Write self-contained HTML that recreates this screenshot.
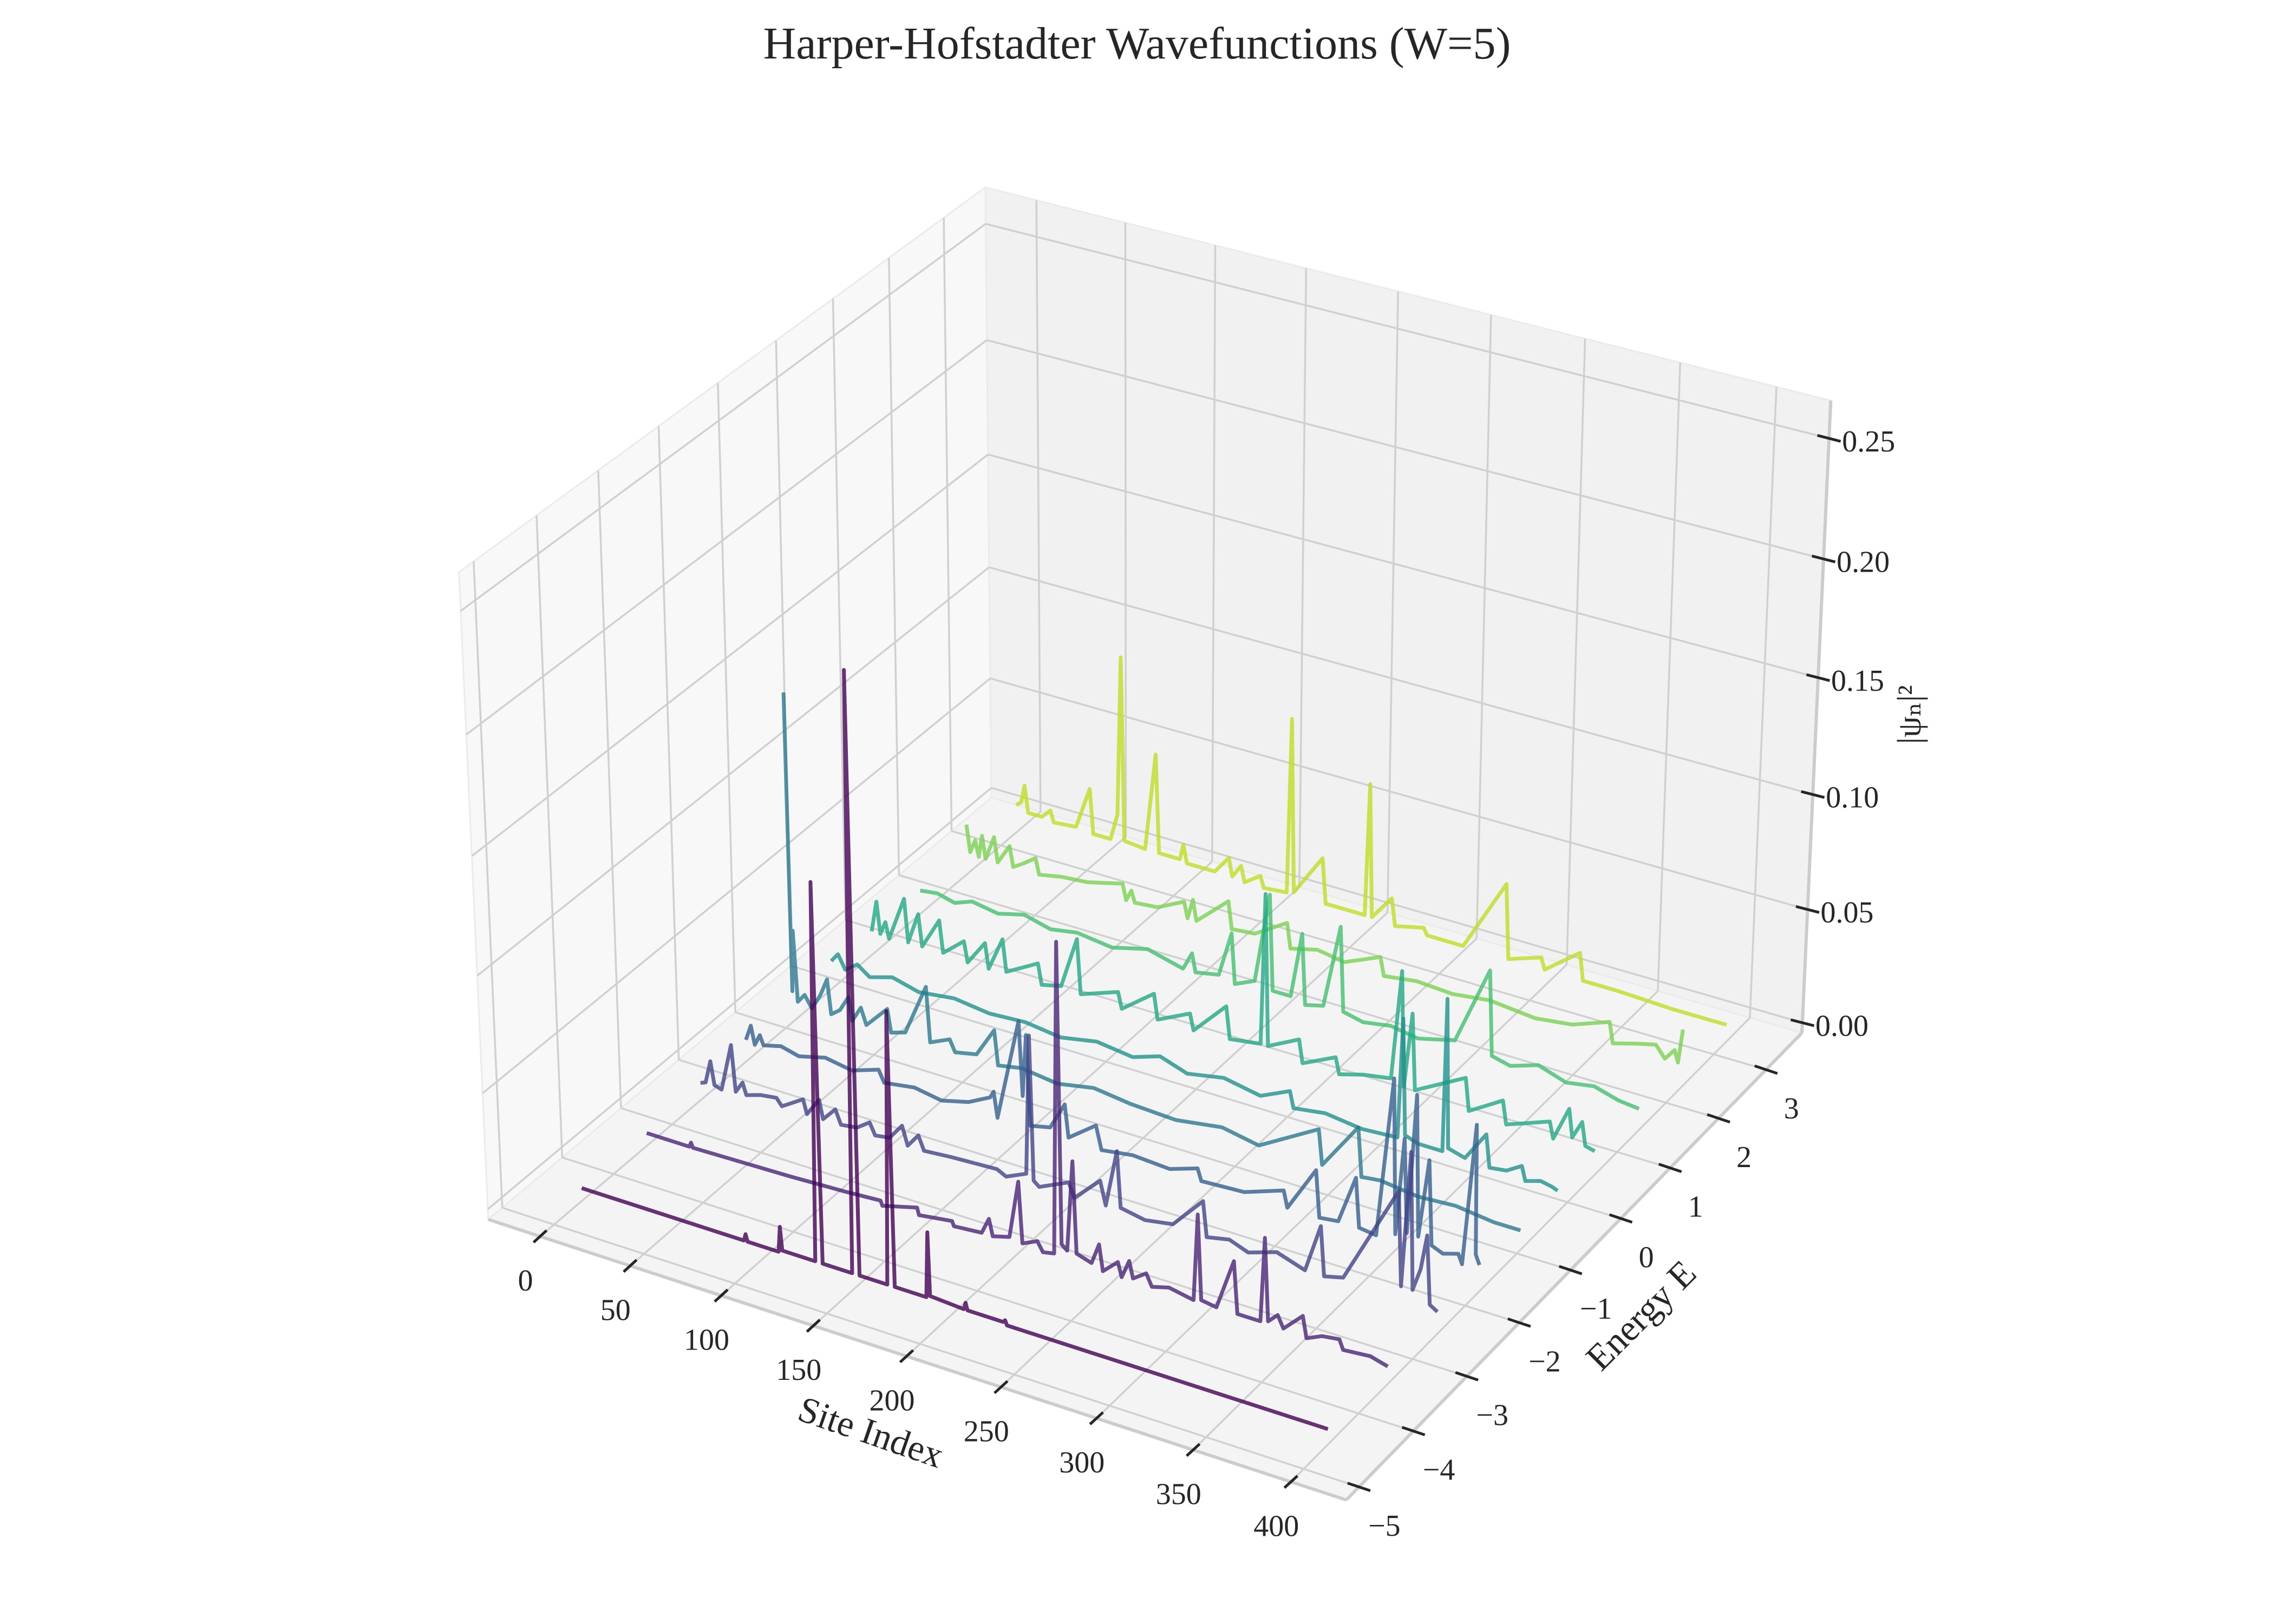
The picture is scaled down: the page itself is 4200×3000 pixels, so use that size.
<!DOCTYPE html>
<html>
<head>
<meta charset="utf-8">
<style>
  html,body{margin:0;padding:0;background:#ffffff;}
  svg{display:block;}
  text{font-family:"Liberation Serif","DejaVu Serif",serif;fill:#262626;}
</style>
</head>
<body>
<svg id="chart" xmlns="http://www.w3.org/2000/svg" width="4200" height="3000" viewBox="0 0 4200 3000">
  <rect x="0" y="0" width="4200" height="3000" fill="#ffffff"/>
  <text x="2100" y="108" font-size="84" text-anchor="middle">Harper-Hofstadter Wavefunctions (W=5)</text>
  <g id="panes"></g>
  <g id="grid"></g>
  <g id="axislines"></g>
  <g id="ticks"></g>
  <g id="series"></g>
  <text x="1608" y="2668" font-size="68" text-anchor="middle" transform="rotate(19 1608 2647)">Site Index</text>
  <text x="3032" y="2452" font-size="68" text-anchor="middle" transform="rotate(-45 3032 2431)">Energy E</text>
  <text x="3526" y="1341" font-size="62" text-anchor="middle" transform="rotate(-90 3526 1320)">|ψₙ|²</text>
</svg>
<script>
// ---- chart data ----
const xTicks = [0, 50, 100, 150, 200, 250, 300, 350, 400];
const xTickLabels = ["0", "50", "100", "150", "200", "250", "300", "350", "400"];
const yTicks = [-5, -4, -3, -2, -1, 0, 1, 2, 3];
const yTickLabels = ["\u22125", "\u22124", "\u22123", "\u22122", "\u22121", "0", "1", "2", "3"];
const zTicks = [0, 0.05, 0.10, 0.15, 0.20, 0.25];
const zTickLabels = ["0.00", "0.05", "0.10", "0.15", "0.20", "0.25"];
const xLim = [-29, 428];
const yLim = [-5.23, 3.77];
const zLim = [-0.0045, 0.2655];
const energies = [-4.53, -3.43, -2.5, -1.7, -0.9, -0.17, 0.57, 1.47, 2.35, 3.3];
const seriesColors = ["#440154", "#482475", "#414487", "#355f8d", "#2a788e", "#21918c", "#22a884", "#44bf70", "#7ad151", "#bddf26"];

const psi0 = [[0,.001],[60,.001],[90,.001],[91,.004],[92,.001],[109,.001],[110,.012],[111,.002],[129,.002],[131,.162],[133,.002],[149,.002],[151,.252],[153,.002],[168,.002],[170,.118],[172,.002],[189,.002],[190,.03],[191,.003],[209,.002],[210,.005],[211,.002],[230,.002],[231,.003],[232,.001],[399,.001]];
const psi1 = [[0,.001],[24,.001],[25,.003],[26,.001],[80,.002],[110,.003],[130,.004],[131,.002],[150,.006],[151,.003],[169,.005],[170,.003],[185,.004],[189,.011],[191,.004],[200,.006],[205,.031],[207,.005],[215,.008],[218,.004],[224,.005],[226,.137],[228,.01],[231,.008],[234,.047],[236,.008],[244,.006],[248,.015],[250,.004],[258,.01],[260,.004],[264,.012],[266,.005],[273,.009],[276,.004],[285,.006],[298,.004],[300,.041],[302,.005],[310,.004],[319,.026],[321,.004],[333,.004],[335,.04],[337,.005],[342,.009],[345,.004],[355,.012],[357,.003],[365,.006],[374,.007],[376,.003],[390,.004],[399,.002]];
const psi2 = [[0,.003],[3,.004],[6,.014],[8,.004],[12,.003],[18,.024],[20,.004],[24,.009],[26,.004],[34,.006],[43,.007],[46,.004],[50,.006],[58,.01],[60,.004],[67,.012],[69,.004],[76,.01],[79,.004],[88,.005],[95,.009],[98,.004],[106,.005],[113,.012],[116,.004],[122,.01],[125,.004],[140,.005],[165,.006],[170,.004],[181,.008],[183,.068],[185,.006],[188,.004],[204,.01],[207,.004],[221,.015],[224,.005],[230,.03],[232,.006],[245,.004],[260,.006],[276,.02],[278,.005],[290,.007],[300,.004],[315,.008],[330,.004],[338,.025],[340,.004],[350,.006],[378,.05],[380,.01],[384,.068],[386,.01],[390,.02],[393,.035],[395,.006],[399,.004]];
const psi3 = [[0,.005],[3,.012],[5,.004],[8,.009],[10,.005],[20,.007],[30,.005],[45,.008],[60,.006],[75,.01],[78,.005],[95,.007],[110,.005],[125,.008],[137,.013],[139,.016],[141,.005],[153,.05],[155,.018],[157,.045],[159,.006],[170,.008],[178,.02],[180,.006],[195,.015],[198,.005],[215,.007],[235,.006],[250,.01],[252,.005],[275,.006],[296,.012],[298,.005],[313,.025],[315,.005],[325,.006],[334,.027],[336,.006],[345,.005],[353,.074],[355,.008],[359,.05],[361,.01],[365,.07],[367,.01],[372,.044],[374,.008],[380,.006],[388,.008],[390,.004],[396,.065],[397,.01],[399,.006]];
const psi4 = [[0,.14],[1,.01],[2,.037],[4,.006],[8,.01],[12,.005],[17,.012],[21,.02],[23,.005],[28,.008],[33,.015],[35,.005],[40,.012],[43,.005],[55,.015],[57,.005],[65,.007],[77,.03],[79,.006],[90,.01],[93,.005],[105,.007],[115,.02],[117,.005],[130,.007],[150,.005],[170,.008],[190,.006],[215,.005],[240,.008],[260,.005],[292,.02],[294,.005],[313,.026],[315,.005],[325,.006],[345,.004],[365,.005],[385,.003],[399,.003]];
const psi5 = [[0,.008],[4,.012],[8,.006],[15,.01],[22,.006],[35,.009],[50,.006],[70,.008],[90,.006],[110,.007],[130,.005],[150,.008],[170,.006],[185,.01],[200,.006],[220,.009],[240,.006],[256,.012],[258,.005],[275,.007],[295,.005],[314,.006],[316,.058],[318,.008],[325,.006],[338,.006],[339,.072],[341,.008],[350,.006],[361,.019],[363,.005],[372,.006],[380,.01],[382,.004],[390,.006],[396,.005],[399,.004]];
const psi6 = [[0,.006],[3,.02],[5,.006],[8,.012],[10,.005],[19,.025],[21,.006],[27,.02],[29,.006],[39,.02],[41,.006],[53,.014],[55,.005],[65,.016],[67,.005],[75,.02],[77,.006],[95,.014],[97,.005],[108,.007],[117,.03],[119,.006],[140,.012],[142,.005],[160,.016],[162,.005],[180,.012],[182,.005],[200,.02],[202,.006],[219,.008],[221,.074],[223,.008],[240,.015],[242,.005],[260,.012],[262,.005],[275,.008],[290,.01],[295,.058],[297,.008],[301,.041],[303,.008],[330,.02],[332,.006],[350,.015],[352,.005],[375,.012],[377,.005],[385,.02],[387,.008],[392,.016],[394,.006],[399,.005]];
const psi7 = [[0,.006],[10,.007],[20,.005],[30,.008],[45,.006],[60,.009],[75,.006],[90,.008],[110,.006],[130,.01],[150,.006],[155,.014],[157,.006],[170,.008],[177,.028],[179,.006],[190,.01],[198,.05],[200,.008],[210,.008],[216,.037],[218,.006],[228,.008],[237,.045],[239,.008],[250,.006],[265,.008],[280,.006],[300,.01],[318,.045],[320,.008],[330,.006],[345,.01],[360,.006],[375,.008],[388,.005],[399,.004]];
const psi8 = [[0,.018],[2,.006],[5,.012],[7,.005],[9,.015],[11,.005],[16,.016],[18,.005],[25,.014],[27,.005],[33,.008],[40,.012],[42,.005],[55,.007],[70,.008],[90,.012],[92,.005],[95,.01],[97,.005],[110,.006],[125,.012],[127,.005],[130,.014],[132,.005],[150,.018],[152,.006],[165,.007],[183,.016],[185,.005],[200,.008],[215,.006],[235,.013],[237,.005],[255,.007],[275,.006],[295,.008],[320,.006],[340,.008],[360,.014],[362,.005],[375,.008],[385,.01],[390,.005],[395,.01],[397,.005],[399,.02]];
const psi9 = [[0,.008],[3,.01],[5,.018],[7,.006],[15,.006],[20,.01],[22,.005],[35,.006],[43,.025],[45,.005],[55,.005],[59,.017],[61,.088],[63,.006],[75,.005],[81,.049],[83,.005],[95,.005],[97,.012],[99,.004],[115,.004],[123,.012],[125,.004],[130,.01],[132,.003],[141,.008],[143,.003],[156,.004],[158,.082],[160,.005],[176,.024],[178,.004],[200,.004],[202,.063],[204,.004],[215,.015],[217,.003],[233,.006],[235,.003],[255,.003],[278,.036],[280,.003],[298,.008],[300,.003],[319,.015],[321,.003],[340,.003],[370,.002],[399,.002]];
const allSeries = [psi0, psi1, psi2, psi3, psi4, psi5, psi6, psi7, psi8, psi9];

// ---- projective camera fitted to the reference box (DLT) ----
const NS = "http://www.w3.org/2000/svg";
const x0 = xLim[0], x1 = xLim[1], y0 = yLim[0], y1 = yLim[1], z0 = zLim[0], z1 = zLim[1];
function norm(x, y, z) {
  return [(x - x0) / (x1 - x0), (y - y0) / (y1 - y0), (z - z0) / (z1 - z0)];
}
const calib = [
  [[x0,y0,z0],[902,2250]], [[x0,y0,z1],[847,1058]], [[x0,y1,z1],[1821,346]],
  [[x1,y1,z1],[3381,741]], [[x1,y1,z0],[3327,1905]], [[x1,y0,z0],[2488,2768]],
  [[0,y0,z0],[997,2286]], [[400,y0,z0],[2380,2739]],
  [[x1,-5,z0],[2514,2747]], [[x1,3,z0],[3260,1984]],
  [[x1,y1,0],[3331,1886]], [[x1,y1,0.25],[3378,808]]
];
function solveDLT() {
  const rows = [], rhs = [];
  calib.forEach(c => {
    const X = norm(...c[0]);
    const u = c[1][0] / 1000, v = c[1][1] / 1000;
    rows.push([X[0], X[1], X[2], 1, 0, 0, 0, 0, -u*X[0], -u*X[1], -u*X[2]]); rhs.push(u);
    rows.push([0, 0, 0, 0, X[0], X[1], X[2], 1, -v*X[0], -v*X[1], -v*X[2]]); rhs.push(v);
  });
  const n = 11;
  const A = [];
  for (let i = 0; i < n; i++) {
    A.push(new Array(n + 1).fill(0));
    for (let j = 0; j < n; j++) rows.forEach((r, k) => { A[i][j] += r[i] * r[j]; });
    rows.forEach((r, k) => { A[i][n] += r[i] * rhs[k]; });
  }
  for (let i = 0; i < n; i++) {
    let piv = i;
    for (let r = i + 1; r < n; r++) if (Math.abs(A[r][i]) > Math.abs(A[piv][i])) piv = r;
    [A[i], A[piv]] = [A[piv], A[i]];
    for (let r = 0; r < n; r++) {
      if (r === i) continue;
      const f = A[r][i] / A[i][i];
      for (let c = i; c <= n; c++) A[r][c] -= f * A[i][c];
    }
  }
  return A.map((r, i) => r[n] / r[i]);
}
const M = solveDLT();
function P(x, y, z) {
  const X = norm(x, y, z);
  const w = M[8]*X[0] + M[9]*X[1] + M[10]*X[2] + 1;
  return [1000 * (M[0]*X[0] + M[1]*X[1] + M[2]*X[2] + M[3]) / w,
          1000 * (M[4]*X[0] + M[5]*X[1] + M[6]*X[2] + M[7]) / w];
}
function pts(list) { return list.map(p => P(p[0], p[1], p[2]).map(v => v.toFixed(1)).join(",")).join(" "); }

const gPanes = document.getElementById("panes");
const gGrid = document.getElementById("grid");
const gAxis = document.getElementById("axislines");
const gTicks = document.getElementById("ticks");
const gSeries = document.getElementById("series");

function addPane(name, corners, fill) {
  const el = document.createElementNS(NS, "polygon");
  
  
  el.setAttribute("points", pts(corners));
  el.setAttribute("fill", fill);
  el.setAttribute("stroke", "#ebebeb");
  el.setAttribute("stroke-width", "3");
  gPanes.appendChild(el);
}
addPane("x-pane", [[x0,y0,z0],[x0,y1,z0],[x0,y1,z1],[x0,y0,z1]], "#f8f8f8");
addPane("y-pane", [[x0,y1,z0],[x1,y1,z0],[x1,y1,z1],[x0,y1,z1]], "#f1f1f1");
addPane("floor-pane", [[x0,y0,z0],[x1,y0,z0],[x1,y1,z0],[x0,y1,z0]], "#f4f4f4");

function addLine(group, name, a, b, color, width) {
  const el = document.createElementNS(NS, "polyline");
  
  
  el.setAttribute("points", pts([a, b]));
  el.setAttribute("stroke", color);
  el.setAttribute("stroke-width", width);
  el.setAttribute("fill", "none");
  group.appendChild(el);
}
const GC = "#d0d0d0";
xTicks.forEach(t => {
  addLine(gGrid, "floor-grid-x", [t,y0,z0], [t,y1,z0], GC, 3.5);
  addLine(gGrid, "back-grid-x", [t,y1,z0], [t,y1,z1], GC, 3.5);
});
yTicks.forEach(t => {
  addLine(gGrid, "floor-grid-y", [x0,t,z0], [x1,t,z0], GC, 3.5);
  addLine(gGrid, "side-grid-y", [x0,t,z0], [x0,t,z1], GC, 3.5);
});
zTicks.forEach(t => {
  addLine(gGrid, "side-grid-z", [x0,y0,t], [x0,y1,t], GC, 3.5);
  addLine(gGrid, "back-grid-z", [x0,y1,t], [x1,y1,t], GC, 3.5);
});
addLine(gAxis, "x-axis-line", [x0,y0,z0], [x1,y0,z0], "#cccccc", 6);
addLine(gAxis, "y-axis-line", [x1,y0,z0], [x1,y1,z0], "#cccccc", 6);
addLine(gAxis, "z-axis-line", [x1,y1,z0], [x1,y1,z1], "#cccccc", 6);

function addTick(name, c, v) {
  const el = document.createElementNS(NS, "line");
  
  
  el.setAttribute("x1", (c[0] - v[0]/2).toFixed(1));
  el.setAttribute("y1", (c[1] - v[1]/2).toFixed(1));
  el.setAttribute("x2", (c[0] + v[0]/2).toFixed(1));
  el.setAttribute("y2", (c[1] + v[1]/2).toFixed(1));
  el.setAttribute("stroke", "#262626");
  el.setAttribute("stroke-width", "5");
  gTicks.appendChild(el);
}
function addLabel(name, x, y, txt, anchor) {
  const el = document.createElementNS(NS, "text");
  
  
  el.setAttribute("x", x.toFixed(1));
  el.setAttribute("y", y.toFixed(1));
  el.setAttribute("font-size", "56");
  el.setAttribute("text-anchor", anchor);
  el.setAttribute("dominant-baseline", "central");
  el.textContent = txt;
  gTicks.appendChild(el);
}
xTicks.forEach((t, i) => {
  const c = P(t, y0, z0);
  addTick("x-tick", c, [-24, 22]);
  addLabel("x-tick-label", c[0] - 27, c[1] + 82, xTickLabels[i], "middle");
});
yTicks.forEach((t, i) => {
  const c = P(x1, t, z0);
  addTick("y-tick", c, [42, 14]);
  addLabel("y-tick-label", c[0] + 47, c[1] + 72, yTickLabels[i], "middle");
});
zTicks.forEach((t, i) => {
  const c = P(x1, y1, t);
  addTick("z-tick", c, [43, 11]);
  addLabel("z-tick-label", c[0] + 24, c[1] + 6, zTickLabels[i], "start");
});

// series, back to front
for (let k = allSeries.length - 1; k >= 0; k--) {
  const e = energies[k];
  const el = document.createElementNS(NS, "polyline");
  
  
  el.setAttribute("points", pts(allSeries[k].map(p => [p[0], e, p[1]])));
  el.setAttribute("fill", "none");
  el.setAttribute("stroke", seriesColors[k]);
  el.setAttribute("stroke-opacity", "0.8");
  el.setAttribute("stroke-width", "7");
  el.setAttribute("stroke-linejoin", "round");
  gSeries.appendChild(el);
}
</script>
</body>
</html>
